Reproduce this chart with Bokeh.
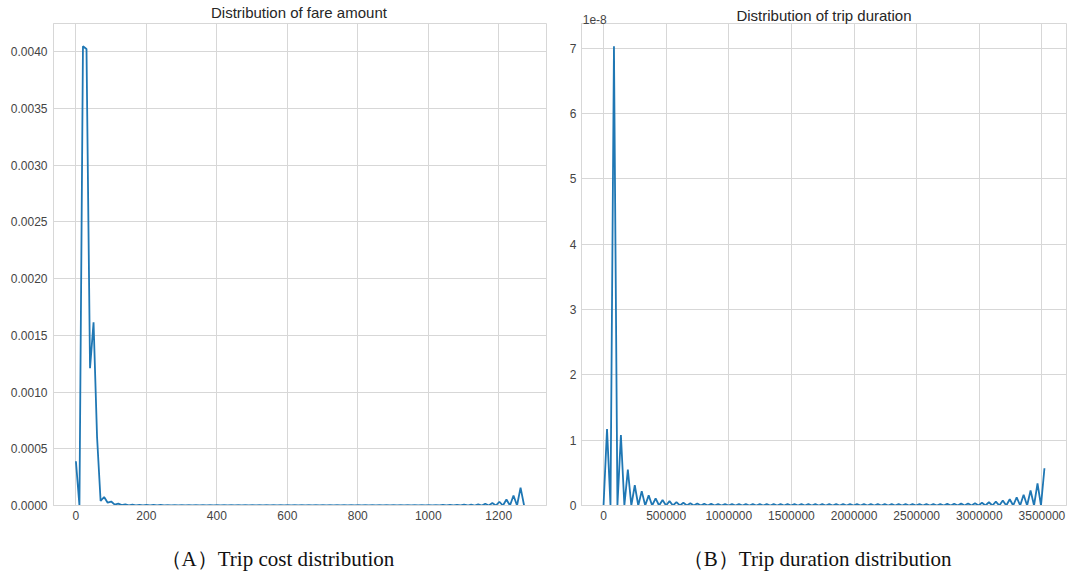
from bokeh.plotting import figure
from bokeh.layouts import row
from bokeh.models import Range1d, FixedTicker, NumeralTickFormatter, LinearAxis
from bokeh.embed import file_html
from bokeh.resources import INLINE
import numpy as np

# ---------------- data ----------------
fare_min, fare_max = 0.0, 1272.0
fare_density = [
    0.000390, 0.0, 0.004050, 0.004025, 0.001210, 0.001615, 0.000600, 0.000040,
    0.000075, 0.000025, 0.000035, 0.000008, 0.000016, 0.000003, 0.000011, 0.000002,
    0.000008, 0.000001, 0.000006, 0.0, 0.000005, 0.0, 0.000005, 0.0,
    0.000005, 0.0, 0.000004, 0.0, 0.000004, 0.0, 0.000004, 0.0,
    0.000004, 0.0, 0.000004, 0.0, 0.000004, 0.0, 0.000004, 0.0,
    0.000004, 0.0, 0.000004, 0.0, 0.000004, 0.0, 0.000004, 0.0,
    0.000004, 0.0, 0.000004, 0.0, 0.000004, 0.0, 0.000004, 0.0,
    0.000004, 0.0, 0.000004, 0.0, 0.000004, 0.0, 0.000004, 0.0,
    0.000004, 0.0, 0.000004, 0.0, 0.000004, 0.0, 0.000004, 0.0,
    0.000004, 0.0, 0.000004, 0.0, 0.000004, 0.0, 0.000004, 0.0,
    0.000004, 0.0, 0.000004, 0.0, 0.000004, 0.0, 0.000004, 0.0,
    0.000004, 0.0, 0.000004, 0.0, 0.000004, 0.0, 0.000004, 0.0,
    0.000004, 0.0, 0.000004, 0.0, 0.000004, 0.0, 0.000004, 0.0,
    0.000005, 0.0, 0.000005, 0.0, 0.000006, 0.0, 0.000007, 0.0,
    0.000008, 0.0, 0.000011, 0.0, 0.000015, 0.0, 0.000022, 0.0,
    0.000033, 0.0, 0.000053, 0.0, 0.000088, 0.0, 0.000157, 0.0,
]

dur_min, dur_max = 0.0, 3520000.0
dur_density_e8 = [  # in units of 1e-8
    0.0, 1.17, 0.0, 7.03, 0.0, 1.08, 0.0, 0.55,
    0.0, 0.31, 0.0, 0.22, 0.0, 0.155, 0.0, 0.11,
    0.0, 0.085, 0.0, 0.066, 0.0, 0.052, 0.0, 0.043,
    0.0, 0.036, 0.0, 0.031, 0.0, 0.027, 0.0, 0.025,
    0.0, 0.023, 0.0, 0.022, 0.0, 0.021, 0.0, 0.021,
    0.0, 0.020, 0.0, 0.020, 0.0, 0.020, 0.0, 0.020,
    0.0, 0.020, 0.0, 0.020, 0.0, 0.020, 0.0, 0.020,
    0.0, 0.020, 0.0, 0.020, 0.0, 0.020, 0.0, 0.020,
    0.0, 0.020, 0.0, 0.020, 0.0, 0.020, 0.0, 0.020,
    0.0, 0.020, 0.0, 0.020, 0.0, 0.020, 0.0, 0.020,
    0.0, 0.020, 0.0, 0.020, 0.0, 0.021, 0.0, 0.021,
    0.0, 0.021, 0.0, 0.022, 0.0, 0.022, 0.0, 0.022,
    0.0, 0.023, 0.0, 0.024, 0.0, 0.026, 0.0, 0.029,
    0.0, 0.032, 0.0, 0.036, 0.0, 0.042, 0.0, 0.050,
    0.0, 0.060, 0.0, 0.075, 0.0, 0.095, 0.0, 0.125,
    0.0, 0.165, 0.0, 0.23, 0.0, 0.34, 0.0, 0.57,
]

fare_ticks_x = [0, 200, 400, 600, 800, 1000, 1200]
fare_ticks_y = [0.0, 0.0005, 0.0010, 0.0015, 0.0020, 0.0025, 0.0030, 0.0035, 0.0040]
dur_ticks_x = [0, 500000, 1000000, 1500000, 2000000, 2500000, 3000000, 3500000]
dur_ticks_y = [0, 1, 2, 3, 4, 5, 6, 7]

titles = ["Distribution of fare amount", "Distribution of trip duration"]
captions = ["（A）Trip cost distribution", "（B）Trip duration distribution"]
offset_text = "1e-8"

fare_x = np.linspace(fare_min, fare_max, len(fare_density))
dur_x = np.linspace(dur_min, dur_max, len(dur_density_e8))

LINE = "#1f77b4"
GRID = "#d7d7d7"
TICK = "#444444"
SANS = "Liberation Sans"
SERIF = "Liberation Serif"


def style(p):
    p.background_fill_color = "white"
    p.border_fill_color = "white"
    p.outline_line_color = GRID
    p.outline_line_width = 1
    p.grid.grid_line_color = GRID
    p.grid.grid_line_width = 1
    for ax in (p.xaxis, p.yaxis):
        ax.axis_line_color = GRID
        ax.major_tick_line_color = None
        ax.minor_tick_line_color = None
        ax.major_tick_out = 0
        ax.major_tick_in = 0
        ax.minor_tick_out = 0
        ax.minor_tick_in = 0
        ax.major_label_text_font = SANS
        ax.major_label_text_font_size = "12px"
        ax.major_label_text_color = TICK
    p.xaxis.major_label_standoff = 5
    p.yaxis.major_label_standoff = 6


def text_axis(pos, text, font, size, color, standoff):
    ax = LinearAxis(ticker=FixedTicker(ticks=[pos]),
                    major_label_overrides={pos: text})
    ax.axis_line_color = None
    ax.major_tick_line_color = None
    ax.minor_tick_line_color = None
    ax.major_tick_out = 0
    ax.major_tick_in = 0
    ax.minor_tick_out = 0
    ax.minor_tick_in = 0
    ax.major_label_text_font = font
    ax.major_label_text_font_size = size
    ax.major_label_text_color = color
    ax.major_label_standoff = standoff
    return ax


# ---------------- left ----------------
p1 = figure(width=558, height=578, output_backend="svg", toolbar_location=None,
            x_range=Range1d(-63.6, 1335.6), y_range=Range1d(0, 0.00425),
            min_border_left=53, min_border_right=12, min_border_top=20,
            min_border_bottom=73)
style(p1)
p1.xaxis.ticker = FixedTicker(ticks=fare_ticks_x)
p1.yaxis.ticker = FixedTicker(ticks=fare_ticks_y)
p1.yaxis.formatter = NumeralTickFormatter(format="0.0000")
p1.line(fare_x, fare_density, line_color=LINE, line_width=1.8)
p1.add_layout(text_axis(633, titles[0], SANS, "15px", "#262626", 3), "above")
p1.add_layout(text_axis(572, captions[0], SERIF, "21px", "#111111", 24), "below")

# ---------------- right ----------------
p2 = figure(width=510, height=578, output_backend="svg", toolbar_location=None,
            x_range=Range1d(-176000, 3696000), y_range=Range1d(0, 7.38),
            min_border_left=23, min_border_right=2, min_border_top=20,
            min_border_bottom=72)
style(p2)
p2.xaxis.ticker = FixedTicker(ticks=dur_ticks_x)
p2.yaxis.ticker = FixedTicker(ticks=dur_ticks_y)
p2.xaxis.formatter = NumeralTickFormatter(format="0")
p2.yaxis.major_label_standoff = 5
p2.line(dur_x, dur_density_e8, line_color=LINE, line_width=1.8)
top2 = text_axis(-70000, offset_text, SANS, "12px", TICK, 0)
top2.axis_label = titles[1]
top2.axis_label_text_font = SANS
top2.axis_label_text_font_size = "15px"
top2.axis_label_text_font_style = "normal"
top2.axis_label_text_color = "#262626"
top2.axis_label_standoff = -12
p2.add_layout(top2, "above")
p2.add_layout(text_axis(1706000, captions[1], SERIF, "21px", "#111111", 24), "below")

layout = row(p1, p2)
open("out.html", "w").write(file_html(layout, INLINE))
